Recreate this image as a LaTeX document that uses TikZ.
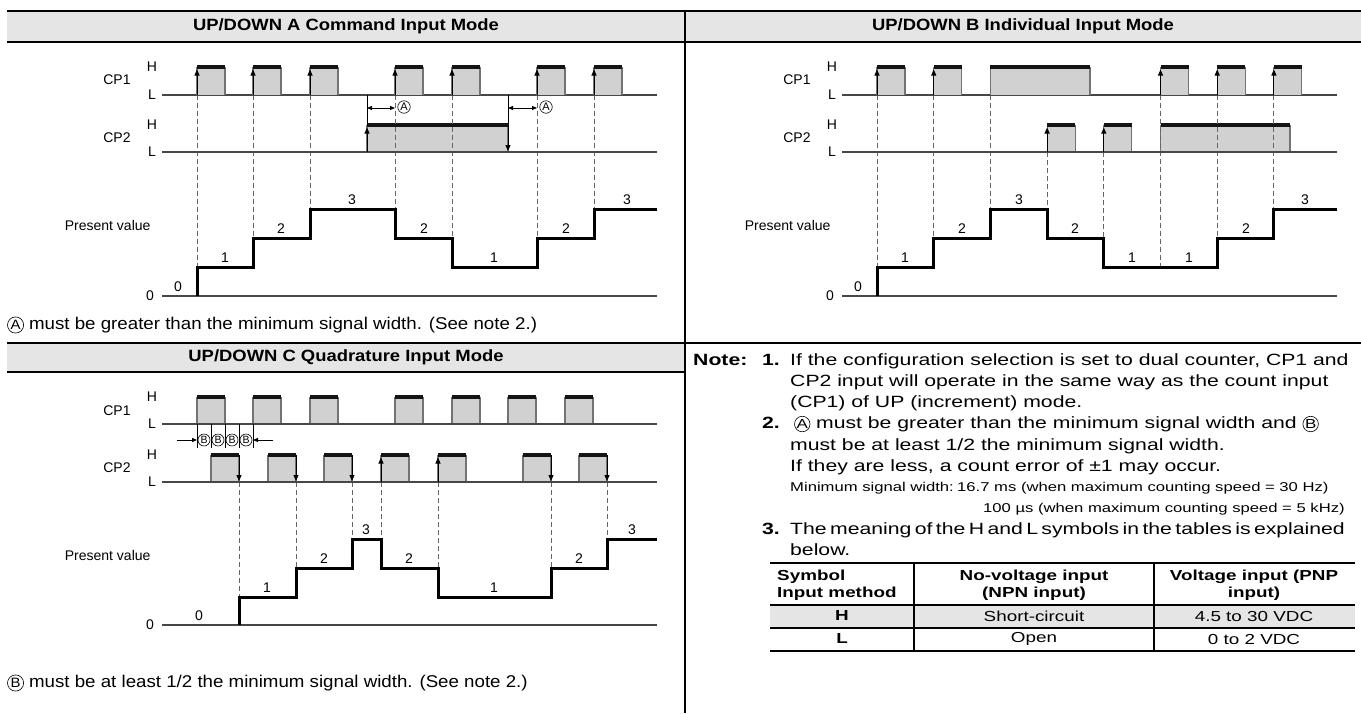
\documentclass[tikz,border=0pt]{standalone}
\usepackage{graphicx}
\usepackage{fontspec}
\setmainfont{Liberation Sans}
\newfontfamily\headfont{Liberation Sans}[FakeStretch=1.13]
\newfontfamily\footfont{Liberation Sans}[FakeStretch=1.1]
\newfontfamily\notefont{Liberation Sans}[FakeStretch=1.3]
\usetikzlibrary{arrows.meta}

% one pulse: x left, x right, y high, y low
\newcommand{\pulse}[4]{%
  \fill[pulsefill] (#1,#3) rectangle (#2,#4);
  \draw[pulseside] (#1,#4) -- (#1,#3) (#2,#3) -- (#2,#4);
  \draw[pulsetop] (#1,#3) -- (#2,#3);}
% circled letter inside text
\newcommand{\circled}[1]{\tikz[baseline=(cl.base)]\node[circle,draw,line width=0.6pt,inner sep=0pt,minimum size=0.95em] (cl) {\scalebox{0.8}{#1}};}

\tikzset{
  rule/.style={line width=2.4pt},
  band/.style={fill=black!10},
  lvl/.style={draw=black!72, line width=1.5pt},
  pulsefill/.style={fill=black!18},
  pulseside/.style={draw=black!55, line width=1.1pt},
  pulsetop/.style={draw=black!92, line width=3.2pt},
  edgeline/.style={draw=black, line width=1pt},
  edgeup/.style={edgeline, -{Triangle[length=6pt,width=5pt]}},
  edgedown/.style={edgeline, -{Triangle[length=6pt,width=5pt]}},
  guide/.style={draw=black!60, line width=0.9pt, dash pattern=on 5pt off 3pt},
  count/.style={line width=3pt, line join=miter},
  gap/.style={line width=0.8pt, {Triangle[length=5pt,width=4pt]}-{Triangle[length=5pt,width=4pt]}},
  gapin/.style={line width=0.8pt, -{Triangle[length=5pt,width=4pt]}},
  circmark/.style={circle, draw, line width=0.6pt, inner sep=0pt, minimum size=12.5pt, font=\fontsize{11}{12}\selectfont},
  sig/.style={font=\fontsize{14}{16}\selectfont},
  num/.style={font=\fontsize{14}{16}\selectfont},
  head/.style={font=\headfont\bfseries\fontsize{16.3}{19}\selectfont},
  foot/.style={font=\footfont\fontsize{17}{19}\selectfont, anchor=west, inner sep=0pt},
  note/.style={font=\notefont\fontsize{16.3}{20}\selectfont, anchor=base west, inner sep=0pt},
  notebf/.style={note, font=\notefont\bfseries\fontsize{16.3}{20}\selectfont},
  small/.style={font=\notefont\fontsize{12.8}{15}\selectfont, anchor=base west, inner sep=0pt},
  cell/.style={font=\notefont\fontsize{14.5}{17}\selectfont, inner sep=0pt},
  cellbf/.style={cell, font=\notefont\bfseries\fontsize{14.5}{17}\selectfont}
}

\begin{document}
\begin{tikzpicture}[x=1pt, y=-1pt]
\useasboundingbox (0,0) rectangle (1361,713);

% Frame and title bands
\fill[band] (7,11) rectangle (1361,42);
\fill[band] (7,343) rectangle (685,372);
\draw[rule] (7,11) -- (1361,11);
\draw[rule] (7,42) -- (1361,42);
\draw[rule] (7,343) -- (1361,343);
\draw[rule] (7,372) -- (685,372);
\draw[rule] (685,11) -- (685,713);

\node[head] (ha) at (346,26) {UP/DOWN A Command Input Mode};
\node[head] (hb) at (1023,26) {UP/DOWN B Individual Input Mode};
\node[head] (hc) at (346,357) {UP/DOWN C Quadrature Input Mode};

% ---------------- UP/DOWN A ----------------
\node[sig] (cpa1) at (117,80) {CP1};
\node[sig] (hia1) at (152,67) {H};
\node[sig] (loa1) at (152,95) {L};
\node[sig] (cpa2) at (117,138) {CP2};
\node[sig] (hia2) at (152,125) {H};
\node[sig] (loa2) at (152,152) {L};
\node[sig, anchor=east] (pva) at (154,225) {Present value};
\node[sig] (zra) at (150,296) {0};

\pulse{367}{508}{125}{152}
\foreach \x/\y in {197/267,253/238,310/209,395/209,452/238,537/238,594/209}
  \draw[guide] (\x,95) -- (\x,\y);
\draw[lvl] (162,95) -- (657,95);
\draw[lvl] (162,152) -- (657,152);
\draw[lvl] (162,296) -- (657,296);
\foreach \x in {197,253,310,395,452,537,594}{
  \pulse{\x}{\x+28}{67}{95}
  \draw[edgeup] (\x,95) -- (\x,69.5);
}
\draw[edgeline] (367,95) -- (367,125);
\draw[edgeup] (367,152) -- (367,127.5);
\draw[edgedown] (508,95) -- (508,151);

% minimum width marks
\draw[gap] (367,108) -- (395,108);
\draw[gap] (508,108) -- (537,108);
\node[circmark] (ma1) at (404,107) {A};
\node[circmark] (ma2) at (546,107) {A};

\draw[count] (197,296) -- (197,267) -- (253,267) -- (253,238) -- (310,238) -- (310,209)
  -- (395,209) -- (395,238) -- (452,238) -- (452,267) -- (537,267) -- (537,238)
  -- (594,238) -- (594,209) -- (657,209);
\foreach \x/\y/\v [count=\i] in {178/287/0,225/258/1,281/229/2,352/200/3,424/229/2,494/258/1,566/229/2,627/200/3}
  \node[num] (vala\i) at (\x,\y) {\v};

\node[foot] (fa) at (7,325) {\circled{A} must be greater than the minimum signal width. (See note 2.)};

% ---------------- UP/DOWN B ----------------
\begin{scope}[xshift=680pt]
\node[sig] (cpb1) at (117,80) {CP1};
\node[sig] (hib1) at (152,67) {H};
\node[sig] (lob1) at (152,95) {L};
\node[sig] (cpb2) at (117,138) {CP2};
\node[sig] (hib2) at (152,125) {H};
\node[sig] (lob2) at (152,152) {L};
\node[sig, anchor=east] (pvb) at (154,225) {Present value};
\node[sig] (zrb) at (150,296) {0};

\pulse{367.1}{395.1}{125}{152}
\pulse{423.8}{451.8}{125}{152}
\pulse{480.5}{610}{125}{152}
\foreach \x/\ya/\yb in {197/95/267,253.7/95/238,310.4/95/209,367.1/152/209,423.8/152/238,480.5/95/267,537.2/95/238,593.9/95/209}
  \draw[guide] (\x,\ya) -- (\x,\yb);
\draw[lvl] (162,95) -- (657,95);
\draw[lvl] (162,152) -- (657,152);
\draw[lvl] (162,296) -- (657,296);
\foreach \x in {197,253.7,480.5,537.2,593.9}{
  \pulse{\x}{\x+28}{67}{95}
  \draw[edgeup] (\x,95) -- (\x,69.5);
}
\pulse{310.4}{410}{67}{95}
\draw[edgeup] (367.1,152) -- (367.1,127.5);
\draw[edgeup] (423.8,152) -- (423.8,127.5);

\draw[count] (197,296) -- (197,267) -- (253.7,267) -- (253.7,238) -- (310.4,238) -- (310.4,209)
  -- (367.1,209) -- (367.1,238) -- (423.8,238) -- (423.8,267) -- (537.2,267) -- (537.2,238)
  -- (593.9,238) -- (593.9,209) -- (657,209);
\foreach \x/\y/\v [count=\i] in {178/287/0,225/258/1,282/229/2,339/200/3,395/229/2,452/258/1,509/258/1,566/229/2,625/200/3}
  \node[num] (valb\i) at (\x,\y) {\v};
\end{scope}

% ---------------- UP/DOWN C ----------------
\node[sig] (cpc1) at (117,411) {CP1};
\node[sig] (hic1) at (152,397) {H};
\node[sig] (loc1) at (152,424) {L};
\node[sig] (cpc2) at (117,468) {CP2};
\node[sig] (hic2) at (152,455) {H};
\node[sig] (loc2) at (152,482) {L};
\node[sig, anchor=east] (pvc) at (154,555) {Present value};
\node[sig] (zrc) at (150,625) {0};

\foreach \x/\y in {239/597,296/568,352/539,381/539,438/568,551/568,607/539}
  \draw[guide] (\x,482) -- (\x,\y);
\foreach \x in {197,253,310,395,452,508,565}
  \pulse{\x}{\x+28}{397}{424}
\foreach \x in {211,268,324,381,438,523,579}
  \pulse{\x}{\x+28}{455}{482}
\draw[lvl] (162,424) -- (657,424);
\draw[lvl] (162,482) -- (657,482);
\draw[lvl] (162,625) -- (657,625);
\foreach \x in {239,296,352,551,607}
  \draw[edgedown] (\x,455) -- (\x,481);
\foreach \x in {381,438}
  \draw[edgeup] (\x,482) -- (\x,457.5);

% quarter-phase marks
\foreach \x in {197,211,225,239,253}
  \draw[edgeline, line width=0.7pt] (\x,424) -- (\x,448);
\draw[gapin] (177,440) -- (197,440);
\draw[gapin] (273,440) -- (253,440);
\foreach \x [count=\i] in {204,218,232,246}
  \node[circmark, minimum size=12pt, font=\fontsize{10.5}{11}\selectfont] (mb\i) at (\x,440) {B};

\draw[count] (239,625) -- (239,597) -- (296,597) -- (296,568) -- (352,568) -- (352,539)
  -- (381,539) -- (381,568) -- (438,568) -- (438,597) -- (551,597) -- (551,568)
  -- (607,568) -- (607,539) -- (657,539);
\foreach \x/\y/\v [count=\i] in {199/616/0,267/588/1,324/559/2,366/530/3,409/559/2,494/588/1,579/559/2,632/530/3}
  \node[num] (valc\i) at (\x,\y) {\v};

\node[foot] (fc) at (7,683) {\circled{B} must be at least 1/2 the minimum signal width. (See note 2.)};

% ---------------- Notes ----------------
\node[notebf] (nn) at (693,365) {Note:};
\node[notebf, anchor=base east] (n1) at (780,365) {1.};
\node[note] (n1a) at (790,365) {If the configuration selection is set to dual counter, CP1 and};
\node[note] (n1b) at (790,386) {CP2 input will operate in the same way as the count input};
\node[note] (n1c) at (790,407) {(CP1) of UP (increment) mode.};
\node[notebf, anchor=base east] (n2) at (780,428.5) {2.};
\node[note] (n2a) at (794,428.5) {\circled{A} must be greater than the minimum signal width and \circled{B}};
\node[note] (n2b) at (790,450) {must be at least 1/2 the minimum signal width.};
\node[note] (n2c) at (790,471) {If they are less, a count error of ±1 may occur.};
\node[small] (n2d) at (790,491) {Minimum signal width:};
\node[small] (n2e) at (957,491) {16.7 ms (when maximum counting speed = 30 Hz)};
\node[small] (n2f) at (983,512) {100 µs (when maximum counting speed = 5 kHz)};
\node[notebf, anchor=base east] (n3) at (780,534) {3.};
\node[note] (n3a) at (790,534) {\spaceskip=0.21em\relax The meaning of the H and L symbols in the tables is explained};
\node[note] (n3b) at (790,555) {below.};

% table of H and L
\fill[black!10] (770,605) rectangle (1355,628);
\draw[line width=2pt] (770,563) -- (1355,563);
\draw[line width=2pt] (770,605) -- (1355,605);
\draw[line width=1.2pt] (770,628) -- (1355,628);
\draw[line width=2pt] (770,651) -- (1355,651);
\draw[line width=1.5pt] (914,563) -- (914,651);
\draw[line width=1.5pt] (1154,563) -- (1154,651);
\node[cellbf, anchor=west] (ta1) at (777,577) {Symbol};
\node[cellbf, anchor=west] (ta2) at (777,594) {Input method};
\node[cellbf] (tb1) at (1034,577) {No-voltage input};
\node[cellbf] (tb2) at (1034,594) {(NPN input)};
\node[cellbf] (tc1) at (1254,577) {Voltage input (PNP};
\node[cellbf] (tc2) at (1254,594) {input)};
\node[cellbf] (th1) at (842,616) {H};
\node[cell] (th2) at (1034,616) {Short-circuit};
\node[cell] (th3) at (1254,616) {4.5 to 30 VDC};
\node[cellbf] (tl1) at (842,639) {L};
\node[cell] (tl2) at (1034,639) {Open};
\node[cell] (tl3) at (1254,639) {0 to 2 VDC};

\end{tikzpicture}
\end{document}
